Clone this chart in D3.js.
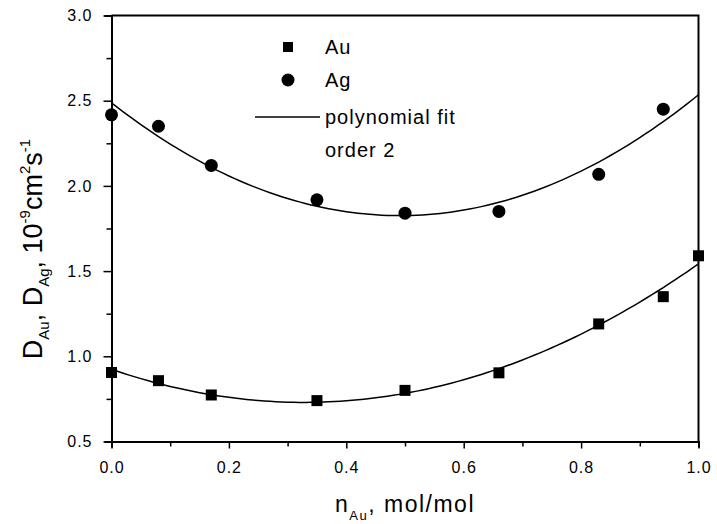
<!DOCTYPE html>
<html><head><meta charset="utf-8">
<script src="https://cdn.jsdelivr.net/npm/d3@7"></script>
<style>
html,body{margin:0;padding:0;background:#fff;}
svg{display:block;font-family:"Liberation Sans",Arial,sans-serif;}
</style></head>
<body>
<svg id="chart" width="717" height="524"></svg>
<script>
// ---- data ----
const xAu = [0, 0.08, 0.17, 0.35, 0.50, 0.66, 0.83, 0.94, 1.00];
const dAu = [0.905, 0.857, 0.773, 0.740, 0.800, 0.903, 1.190, 1.350, 1.590];
const xAg = [0, 0.08, 0.17, 0.35, 0.50, 0.66, 0.83, 0.94];
const dAg = [2.417, 2.350, 2.120, 1.918, 1.840, 1.850, 2.068, 2.450];
const xTicks = [0, 0.2, 0.4, 0.6, 0.8, 1.0];
const yTicks = [0.5, 1.0, 1.5, 2.0, 2.5, 3.0];
const legendLabels = ["Au", "Ag", "polynomial fit", "order 2"];

// ---- quadratic least-squares fit ----
function quadFit(xs, ys){
  let S=[0,0,0,0,0], T=[0,0,0];
  xs.forEach((x,i)=>{ for(let k=0;k<5;k++) S[k]+=Math.pow(x,k); for(let k=0;k<3;k++) T[k]+=ys[i]*Math.pow(x,k); });
  const A=[[S[0],S[1],S[2],T[0]],[S[1],S[2],S[3],T[1]],[S[2],S[3],S[4],T[2]]];
  for(let i=0;i<3;i++){ for(let j=i+1;j<3;j++){ const f=A[j][i]/A[i][i]; for(let k=i;k<4;k++) A[j][k]-=f*A[i][k]; } }
  const c=[0,0,0];
  for(let i=2;i>=0;i--){ let s=A[i][3]; for(let k=i+1;k<3;k++) s-=A[i][k]*c[k]; c[i]=s/A[i][i]; }
  return x=>c[0]+c[1]*x+c[2]*x*x;
}
const fAu = quadFit(xAu, dAu), fAg = quadFit(xAg, dAg);

const svg = d3.select("#chart");
const L=111.5, R=698.5, T=15.5, B=441.5;
const x = d3.scaleLinear().domain([0,1]).range([L,R]);
const y = d3.scaleLinear().domain([0.5,3.0]).range([B,T]);

// frame (top & right)
svg.append("path").attr("d",`M${L},${T}H${R}V${B}`).attr("fill","none").attr("stroke","#000").attr("stroke-width",2);

// x axis
const xa = svg.append("g").attr("transform",`translate(0,${B})`)
  .call(d3.axisBottom(x).tickValues(d3.range(0,1.001,0.1)).tickSize(6).tickFormat(""));
xa.select(".domain").attr("stroke-width",2);
xa.selectAll(".tick line").attr("stroke-width",1.5).attr("y2",(d,i)=>i%2===0?7:5);
const xl = svg.append("g").attr("transform",`translate(0,${B})`)
  .call(d3.axisBottom(x).tickValues(xTicks).tickSize(0).tickPadding(20).tickFormat(d3.format(".1f")));
xl.select(".domain").remove();
xl.selectAll("text").attr("font-size",16).attr("letter-spacing",1).attr("font-family","Liberation Sans, Arial").attr("fill","#000");

// y axis
const ya = svg.append("g").attr("transform",`translate(${L},0)`)
  .call(d3.axisLeft(y).tickValues(d3.range(0.5,3.001,0.25)).tickSize(7).tickFormat(""));
ya.select(".domain").attr("stroke-width",2);
ya.selectAll(".tick line").attr("stroke-width",1.5).attr("x2",(d,i)=>i%2===0?-8:-5);
const yl = svg.append("g").attr("transform",`translate(${L},0)`)
  .call(d3.axisLeft(y).tickValues(yTicks).tickSize(0).tickPadding(19).tickFormat(d3.format(".1f")));
yl.select(".domain").remove();
yl.selectAll("text").attr("font-size",16).attr("letter-spacing",1).attr("font-family","Liberation Sans, Arial").attr("fill","#000");

// fit curves
const grid = d3.range(0,1.0001,0.01);
const line = f => d3.line().x(d=>x(d)).y(d=>y(f(d)))(grid);
[fAu,fAg].forEach(f=>svg.append("path").attr("d",line(f)).attr("fill","none").attr("stroke","#000").attr("stroke-width",1.5));

// markers
svg.append("g").selectAll("rect").data(xAu.map((v,i)=>[v,dAu[i]])).join("rect")
  .attr("x",d=>x(d[0])-5.5).attr("y",d=>y(d[1])-5.5).attr("width",11).attr("height",11).attr("fill","#000");
svg.append("g").selectAll("circle").data(xAg.map((v,i)=>[v,dAg[i]])).join("circle")
  .attr("cx",d=>x(d[0])).attr("cy",d=>y(d[1])).attr("r",6.5).attr("fill","#000");

// legend
const lg = svg.append("g").attr("font-size",20).attr("letter-spacing",1);
lg.append("rect").attr("x",283).attr("y",42).attr("width",10).attr("height",10).attr("fill","#000");
lg.append("circle").attr("cx",288).attr("cy",80).attr("r",6.5).attr("fill","#000");
lg.append("line").attr("x1",255).attr("x2",320).attr("y1",117).attr("y2",117).attr("stroke","#000").attr("stroke-width",1.5);
const ly = [54, 87, 124, 157];
legendLabels.forEach((t,i)=>lg.append("text").attr("x",325).attr("y",ly[i]).text(t));

// axis titles
const xt = svg.append("text").attr("x",405).attr("y",512).attr("text-anchor","middle").attr("font-size",23).attr("letter-spacing",1.5);
xt.append("tspan").text("n");
xt.append("tspan").attr("font-size",13).attr("dy",8).text("Au");
xt.append("tspan").attr("dy",-8).text(", mol/mol");

const yt = svg.append("text").attr("transform","translate(42,249) rotate(-90)").attr("text-anchor","middle").attr("font-size",27);
yt.append("tspan").text("D");
yt.append("tspan").attr("font-size",15).attr("dy",7).text("Au");
yt.append("tspan").attr("dy",-7).text(", D");
yt.append("tspan").attr("font-size",15).attr("dy",7).text("Ag");
yt.append("tspan").attr("dy",-7).text(", 10");
yt.append("tspan").attr("font-size",15).attr("dy",-12).text("-9");
yt.append("tspan").attr("dy",12).text("cm");
yt.append("tspan").attr("font-size",15).attr("dy",-12).text("2");
yt.append("tspan").attr("dy",12).text("s");
yt.append("tspan").attr("font-size",15).attr("dy",-12).text("-1");
</script>
</body></html>
